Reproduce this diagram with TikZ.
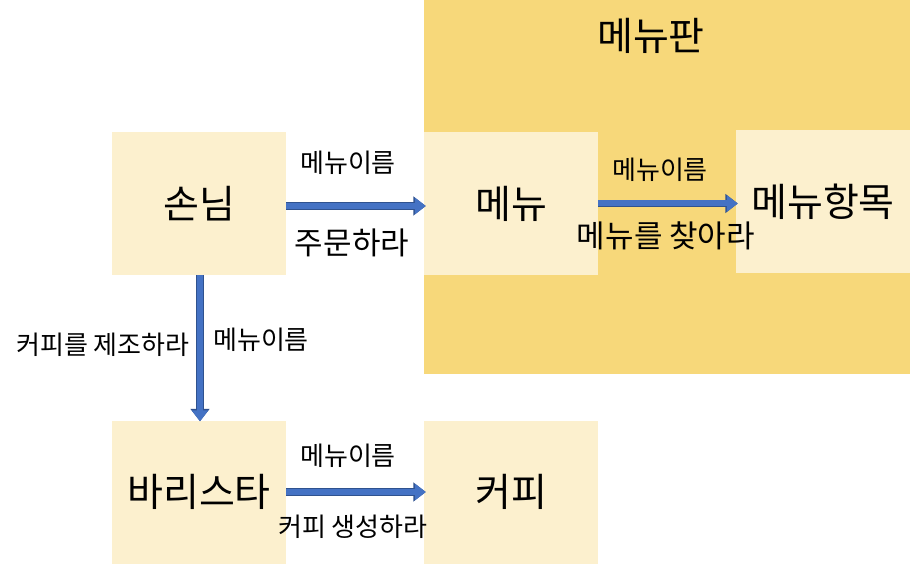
\documentclass[tikz,border=0pt]{standalone}
\usepackage{fontspec}
\setmainfont{Noto Sans CJK KR}
\usetikzlibrary{arrows.meta}
\definecolor{boardfill}{HTML}{F7D87A}
\definecolor{boxfill}{HTML}{FCF0CE}
\definecolor{arrowfill}{HTML}{4472C4}
\definecolor{arrowedge}{HTML}{2F528F}
\tikzset{
  box/.style={fill=boxfill, minimum width=174pt, minimum height=143pt, inner sep=0pt, font=\fontsize{39}{44}\selectfont},
  msgarrow/.style={draw=arrowfill, line width=6pt, -{Triangle[width=16pt,length=11pt]},
    preaction={draw=arrowedge, line width=7.5pt, -{Triangle[width=18.5pt,length=12.5pt]}}},
  biglabel/.style={font=\fontsize{31}{36}\selectfont, inner sep=0pt},
  smalllabel/.style={font=\fontsize{26}{30}\selectfont, inner sep=0pt},
}
\begin{document}
\begin{tikzpicture}[x=1pt,y=-1pt]
  \useasboundingbox (0,0) rectangle (918,564);
  % Node: Board
  \fill[boardfill] (424,0) rectangle (910,374);
  \node[font=\fontsize{39}{44}\selectfont, inner sep=0pt] (boardtitle) at (651,36) {메뉴판};
  % Node: Guest
  \node[box] (guest) at (199,203.5) {손님};
  % Node: Menu
  \node[box] (menu) at (511,203.5) {메뉴};
  % Node: MenuItem
  \node[box] (item) at (823,201.5) {메뉴항목};
  % Node: Barista
  \node[box] (barista) at (199,492) {바리스타};
  % Node: Coffee
  \node[box] (coffee) at (511,492) {커피};
  % Edge: Guest -> Menu
  \draw[msgarrow] ([yshift=-2.5pt]guest.east) -- ([yshift=-2.5pt,xshift=2pt]menu.west);
  \node[smalllabel] (orderarg) at (348,163) {메뉴이름};
  \node[biglabel] (order) at (352,243) {주문하라};
  % Edge: Menu -> MenuItem
  \draw[msgarrow] (menu.east) -- ([xshift=2pt]menu.east -| item.west);
  \node[smalllabel] (findarg) at (660,170) {메뉴이름};
  \node[biglabel] (find) at (666,236) {메뉴를 찾아라};
  % Edge: Guest -> Barista
  \draw[msgarrow] ([xshift=1pt]guest.south) -- ([xshift=1pt,yshift=-1pt]barista.north);
  \node[smalllabel] (brew) at (103,345) {커피를 제조하라};
  \node[smalllabel] (brewarg) at (261,340) {메뉴이름};
  % Edge: Barista -> Coffee
  \draw[msgarrow] (barista.east) -- ([xshift=2pt]coffee.west);
  \node[smalllabel] (makearg) at (348,456) {메뉴이름};
  \node[smalllabel] (make) at (353,527) {커피 생성하라};
\end{tikzpicture}
\end{document}
